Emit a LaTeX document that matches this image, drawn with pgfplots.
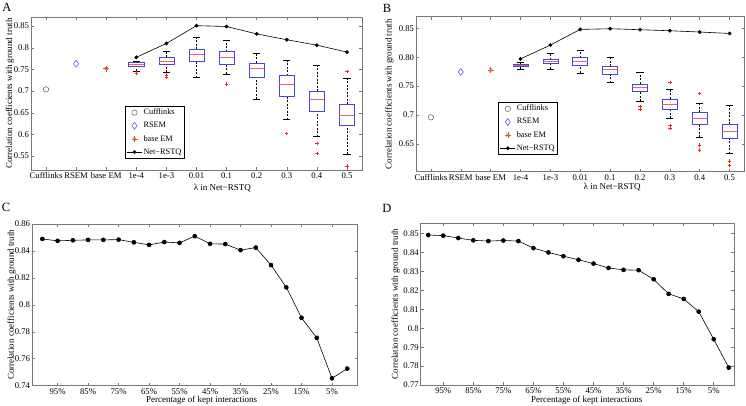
\documentclass[border=0pt]{standalone}
\usepackage{fontspec}
\setmainfont{Liberation Serif}
\usepackage{pgfplots}
\pgfplotsset{compat=1.18}
\definecolor{boxblue}{RGB}{70,70,225}
\definecolor{medred}{RGB}{235,100,100}
\definecolor{outred}{RGB}{255,30,30}
\definecolor{emcol}{RGB}{205,95,55}
\definecolor{framegray}{RGB}{120,120,120}
\definecolor{rsemblue}{RGB}{70,70,230}
\pgfplotsset{
  mystyle/.style={
    scale only axis,
    font=\fontsize{9}{10}\selectfont,
    tick label style={font=\fontsize{8.7}{10}\selectfont},
    label style={font=\fontsize{9}{10}\selectfont},
    xticklabel style={inner sep=0pt, yshift=-2.5pt},
    yticklabel style={inner sep=0pt, xshift=-1.8pt},
    tick align=inside,
    major tick length=3pt,
    axis line style={framegray, line width=0.5pt},
    every tick/.style={framegray, line width=0.5pt},
    /pgf/number format/assume math mode=true,
    clip=false,
  },
  legstyle/.style={legend style={draw=black, line width=0.4pt, fill=white,
      font=\fontsize{8.3}{9}\selectfont, cells={anchor=west}, row sep=3.6pt,
      inner sep=1.5pt, nodes={inner sep=1.2pt}},
    legend image code/.code={\draw[mark repeat=2,mark phase=2,##1] plot coordinates {(0pt,0pt) (7.5pt,0pt) (15pt,0pt)};}},
  emlegend/.style={legend image code/.code={%
    \draw[emcol, line width=0.5pt, mark=+, mark size=3pt] plot coordinates {(7.5pt,0pt)};
    \draw[emcol, line width=0.5pt, mark=x, mark size=2.2pt] plot coordinates {(7.5pt,0pt)};}},
}
% box: x, lower whisker, lower quartile, median, upper quartile, upper whisker
\newcommand{\bx}[6]{%
  \pgfmathsetmacro{\bxL}{#1-0.25}\pgfmathsetmacro{\bxR}{#1+0.25}%
  \pgfmathsetmacro{\bcL}{#1-0.12}\pgfmathsetmacro{\bcR}{#1+0.12}%
  \edef\bxtmp{%
  \noexpand\addplot[forget plot, black, line width=0.45pt, dash pattern=on 2pt off 1.5pt] coordinates {(#1,#2) (#1,#3)};
  \noexpand\addplot[forget plot, black, line width=0.45pt, dash pattern=on 2pt off 1.5pt] coordinates {(#1,#5) (#1,#6)};
  \noexpand\addplot[forget plot, black, line width=0.45pt] coordinates {(\bcL,#2) (\bcR,#2)};
  \noexpand\addplot[forget plot, black, line width=0.45pt] coordinates {(\bcL,#6) (\bcR,#6)};
  \noexpand\addplot[forget plot, boxblue, line width=0.6pt, line join=miter] coordinates {(\bxL,#3) (\bxR,#3) (\bxR,#5) (\bxL,#5) (\bxL,#3) (\bxR,#3)};
  \noexpand\addplot[forget plot, medred, line width=0.6pt] coordinates {(\bxL,#4) (\bxR,#4)};
  }\bxtmp}
\begin{document}
\begin{tikzpicture}
\useasboundingbox (0pt,0pt) rectangle (746pt,406pt);
\node[font=\fontsize{12.5}{12}\selectfont] at (7pt,398.5pt) {A};
\node[font=\fontsize{12.5}{12}\selectfont] at (387pt,398pt) {B};
\node[font=\fontsize{12.5}{12}\selectfont] at (6pt,198.5pt) {C};
\node[font=\fontsize{12.5}{12}\selectfont] at (387pt,197.5pt) {D};

% ---------------- A ----------------
\begin{axis}[mystyle, legstyle,
  at={(31pt,236pt)}, anchor=south west,
  width=331pt, height=153pt,
  xmin=0.5, xmax=11.5, ymin=0.518, ymax=0.871,
  xtick={1,2,3,4,5,6,7,8,9,10,11},
  xticklabels={Cufflinks,RSEM,base EM,1e-4,1e-3,0.01,0.1,0.2,0.3,0.4,0.5},
  ytick={0.55,0.6,0.65,0.7,0.75,0.8,0.85},
  yticklabels={0.55,0.6,0.65,0.7,0.75,0.8,0.85},
  xlabel={λ in Net−RSTQ},
  ylabel={Correlation coefficients with ground truth},
  xlabel style={at={(axis description cs:0.578,-0.117)}, anchor=center, inner sep=0pt},
  ylabel style={at={(axis description cs:-0.064,0.5)}, anchor=center, inner sep=0pt},
  legend style={at={(0.284,0.418)}, anchor=north west},
]
\addplot[only marks, mark=o, mark size=2.7pt, black!65, line width=0.5pt] coordinates {(1,0.704)};
\addlegendentry{Cufflinks}
\addplot[only marks, mark=diamond, mark size=3.4pt, rsemblue, line width=0.5pt] coordinates {(2,0.763)};
\addlegendentry{RSEM}
\addplot[only marks, mark=+, mark size=3pt, emcol, line width=0.5pt, emlegend] coordinates {(3,0.752)};
\addlegendentry{base EM}
\addplot[black, line width=0.6pt, mark=*, mark size=1.6pt] coordinates {
(4,0.778) (5,0.810) (6,0.851) (7,0.849) (8,0.832) (9,0.8185) (10,0.806) (11,0.790)};
\addlegendentry{Net−RSTQ}
\addplot[forget plot, only marks, mark=x, mark size=2.2pt, emcol, line width=0.5pt] coordinates {(3,0.752)};
\bx{4}{0.747}{0.758}{0.7615}{0.767}{0.769}
\bx{5}{0.743}{0.7615}{0.768}{0.778}{0.791}
\bx{6}{0.731}{0.768}{0.785}{0.796}{0.824}
\bx{7}{0.740}{0.762}{0.778}{0.791}{0.818}
\bx{8}{0.681}{0.7315}{0.752}{0.765}{0.788}
\bx{9}{0.634}{0.689}{0.7154}{0.7354}{0.7715}
\bx{10}{0.595}{0.653}{0.681}{0.700}{0.759}
\bx{11}{0.554}{0.6215}{0.6446}{0.670}{0.729}
\addplot[forget plot, only marks, mark=+, mark size=1.7pt, outred, line width=0.6pt] coordinates {
(4,0.742) (5,0.737) (5,0.731) (7,0.716) (9,0.6023) (10,0.579) (10,0.556) (11,0.7454) (11,0.527)};
\end{axis}

% ---------------- B ----------------
\begin{axis}[mystyle, legstyle,
  at={(416pt,234.3pt)}, anchor=south west,
  width=328.5pt, height=155pt,
  xmin=0.5, xmax=11.5, ymin=0.602, ymax=0.870,
  xtick={1,2,3,4,5,6,7,8,9,10,11},
  xticklabels={Cufflinks,RSEM,base EM,1e-4,1e-3,0.01,0.1,0.2,0.3,0.4,0.5},
  ytick={0.65,0.7,0.75,0.8,0.85},
  yticklabels={0.65,0.7,0.75,0.80,0.85},
  xlabel={λ in Net−RSTQ},
  ylabel={Correlation coefficients with ground truth},
  xlabel style={at={(axis description cs:0.597,-0.100)}, anchor=center, inner sep=0pt},
  ylabel style={at={(axis description cs:-0.0807,0.5)}, anchor=center, inner sep=0pt},
  legend style={at={(0.2505,0.448)}, anchor=north west},
]
\addplot[only marks, mark=o, mark size=2.7pt, black!65, line width=0.5pt] coordinates {(1,0.696)};
\addlegendentry{Cufflinks}
\addplot[only marks, mark=diamond, mark size=3.4pt, rsemblue, line width=0.5pt] coordinates {(2,0.7745)};
\addlegendentry{RSEM}
\addplot[only marks, mark=+, mark size=3pt, emcol, line width=0.5pt, emlegend] coordinates {(3,0.778)};
\addlegendentry{base EM}
\addplot[black, line width=0.6pt, mark=*, mark size=1.6pt] coordinates {
(4,0.797) (5,0.821) (6,0.848) (7,0.8492) (8,0.8475) (9,0.8457) (10,0.8435) (11,0.841)};
\addlegendentry{Net−RSTQ}
\addplot[forget plot, only marks, mark=x, mark size=2.2pt, emcol, line width=0.5pt] coordinates {(3,0.778)};
\bx{4}{0.780}{0.7845}{0.786}{0.7875}{0.7915}
\bx{5}{0.780}{0.789}{0.7924}{0.7958}{0.8068}
\bx{6}{0.773}{0.7857}{0.7932}{0.799}{0.8117}
\bx{7}{0.756}{0.7712}{0.7787}{0.7845}{0.8007}
\bx{8}{0.7242}{0.7404}{0.7474}{0.7538}{0.774}
\bx{9}{0.694}{0.7103}{0.719}{0.7277}{0.7445}
\bx{10}{0.6616}{0.6842}{0.6946}{0.7045}{0.720}
\bx{11}{0.6332}{0.6598}{0.6726}{0.6842}{0.7167}
\addplot[forget plot, only marks, mark=+, mark size=1.7pt, outred, line width=0.6pt] coordinates {
(8,0.7145) (8,0.7105) (9,0.7567) (9,0.682) (9,0.6775) (10,0.737) (10,0.6483) (10,0.6396) (11,0.6204) (11,0.6123)};
\end{axis}

% ---------------- C ----------------
\begin{axis}[mystyle,
  at={(32pt,20.3pt)}, anchor=south west,
  width=325.6pt, height=161.7pt,
  xmin=0.32, xmax=21.68, ymin=0.74, ymax=0.86,
  xtick={2,4,6,8,10,12,14,16,18,20},
  xticklabels={95\%,85\%,75\%,65\%,55\%,45\%,35\%,25\%,15\%,5\%},
  ytick={0.74,0.76,0.78,0.8,0.82,0.84,0.86},
  yticklabels={0.74,0.76,0.78,0.8,0.82,0.84,0.86},
  xlabel={Percentage of kept interactions},
  ylabel={Correlation coefficients with ground truth},
  xlabel style={at={(axis description cs:0.521,-0.090)}, anchor=center, inner sep=0pt},
  ylabel style={at={(axis description cs:-0.0623,0.5)}, anchor=center, inner sep=0pt},
]
\addplot[black, line width=0.6pt, mark=*, mark size=2pt] coordinates {
(1,0.8489) (2,0.8475) (3,0.8479) (4,0.8482) (5,0.8482) (6,0.8484) (7,0.8464)
(8,0.8445) (9,0.8466) (10,0.8460) (11,0.8510) (12,0.8453) (13,0.8451) (14,0.8406)
(15,0.8425) (16,0.8295) (17,0.8130) (18,0.7904) (19,0.7755) (20,0.7455) (21,0.7527)};
\end{axis}

% ---------------- D ----------------
\begin{axis}[mystyle,
  at={(420.7pt,21pt)}, anchor=south west,
  width=313.3pt, height=161.7pt,
  xmin=0.5, xmax=21.35, ymin=0.77, ymax=0.8555,
  xtick={2,4,6,8,10,12,14,16,18,20},
  xticklabels={95\%,85\%,75\%,65\%,55\%,45\%,35\%,25\%,15\%,5\%},
  ytick={0.77,0.78,0.79,0.8,0.81,0.82,0.83,0.84,0.85},
  yticklabels={0.77,0.78,0.79,0.8,0.81,0.82,0.83,0.84,0.85},
  xlabel={Percentage of kept interactions},
  ylabel={Correlation coefficients with ground truth},
  xlabel style={at={(axis description cs:0.53,-0.093)}, anchor=center, inner sep=0pt},
  ylabel style={at={(axis description cs:-0.080,0.5)}, anchor=center, inner sep=0pt},
]
\addplot[black, line width=0.6pt, mark=*, mark size=2pt] coordinates {
(1,0.8493) (2,0.8490) (3,0.8477) (4,0.8465) (5,0.8461) (6,0.8464) (7,0.8461)
(8,0.8424) (9,0.8401) (10,0.8381) (11,0.8362) (12,0.8342) (13,0.8319) (14,0.8309)
(15,0.8307) (16,0.8259) (17,0.8182) (18,0.8155) (19,0.8088) (20,0.7942) (21,0.7792)};
\end{axis}
\end{tikzpicture}
\end{document}
